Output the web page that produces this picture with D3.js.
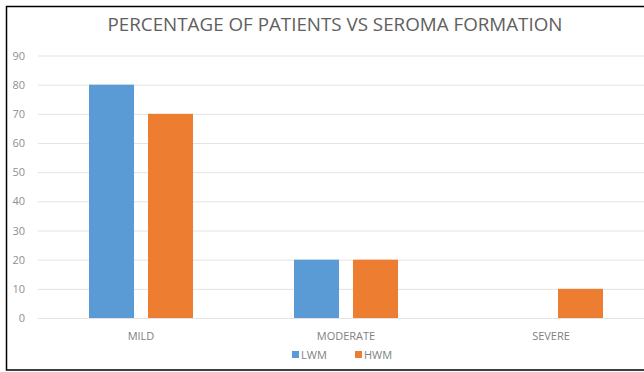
<!DOCTYPE html>
<html><head><meta charset="utf-8">
<script src="https://cdn.jsdelivr.net/npm/d3@7"></script>
<style>body{margin:0;background:#fff}svg{display:block}</style>
</head><body>
<svg id="c" width="644" height="372"></svg>
<script>
const categories = ["MILD", "MODERATE", "SEVERE"];
const seriesNames = ["LWM", "HWM"];
const lwm = [80, 20, 0];
const hwm = [70, 20, 10];
const yTicks = [0, 10, 20, 30, 40, 50, 60, 70, 80, 90];
const title = "PERCENTAGE OF PATIENTS VS SEROMA FORMATION";
const colors = ["#5B9BD5", "#ED7D31"];

const values = [lwm, hwm];
const svg = d3.select("#c");
const font = "'Open Sans', 'Liberation Sans', sans-serif";

// frame
svg.append("rect").attr("x", 6.5).attr("y", 6.5).attr("width", 700).attr("height", 363.5)
  .attr("fill", "#fff").attr("stroke", "#000").attr("stroke-width", 1.5);

const x0 = d3.scaleBand().domain(categories).range([38.5, 653.5]).paddingInner(0).paddingOuter(0);
const x1 = d3.scaleBand().domain(seriesNames).range([50.5, 154.5]).paddingInner(0.237).paddingOuter(0);
const y = d3.scaleLinear().domain([0, 90]).range([318, 55.5]);

// gridlines
const yAxis = d3.axisLeft(y).tickValues(yTicks).tickSize(-(653 - 38)).tickPadding(13);
const gy = svg.append("g").attr("transform", "translate(38,0)").call(yAxis);
gy.select(".domain").remove();
gy.selectAll(".tick line").attr("stroke", "#e3e3e3").attr("stroke-width", 1);
gy.selectAll(".tick text").attr("fill", "#8f8f8f").style("font-family", font).style("font-size", "11px");

// bars
const groups = svg.append("g").selectAll("g").data(categories).join("g")
  .attr("transform", d => `translate(${x0(d)},0)`);
groups.selectAll("rect").data((d, i) => seriesNames.map((s, j) => ({s, v: values[j][i], j})))
  .join("rect")
  .attr("x", d => x1(d.s)).attr("width", x1.bandwidth())
  .attr("y", d => y(d.v)).attr("height", d => y(0) - y(d.v))
  .attr("fill", d => colors[d.j]);

// x axis labels
const xAxis = d3.axisBottom(x0).tickSize(0).tickPadding(14);
const gx = svg.append("g").attr("transform", `translate(0,${y(0)})`).call(xAxis);
gx.select(".domain").remove();
gx.selectAll(".tick text").attr("fill", "#7f7f7f").style("font-family", font).style("font-size", "11px");

// title
svg.append("text").attr("x", 335).attr("y", 31).attr("text-anchor", "middle")
  .attr("fill", "#606060").style("font-family", font).style("font-size", "18.8px")
  .text(title);

// legend
const leg = svg.append("g").attr("transform", "translate(292,355)");
const legX = [0, 63];
seriesNames.forEach((s, i) => {
  const g = leg.append("g").attr("transform", `translate(${legX[i]},0)`);
  g.append("rect").attr("x", 0).attr("y", -4).attr("width", 7).attr("height", 7).attr("fill", colors[i]);
  g.append("text").attr("x", 9).attr("y", 0).attr("dy", "0.35em")
    .attr("fill", "#7f7f7f").style("font-family", font).style("font-size", "11px").text(s);
});
</script>
</body></html>
